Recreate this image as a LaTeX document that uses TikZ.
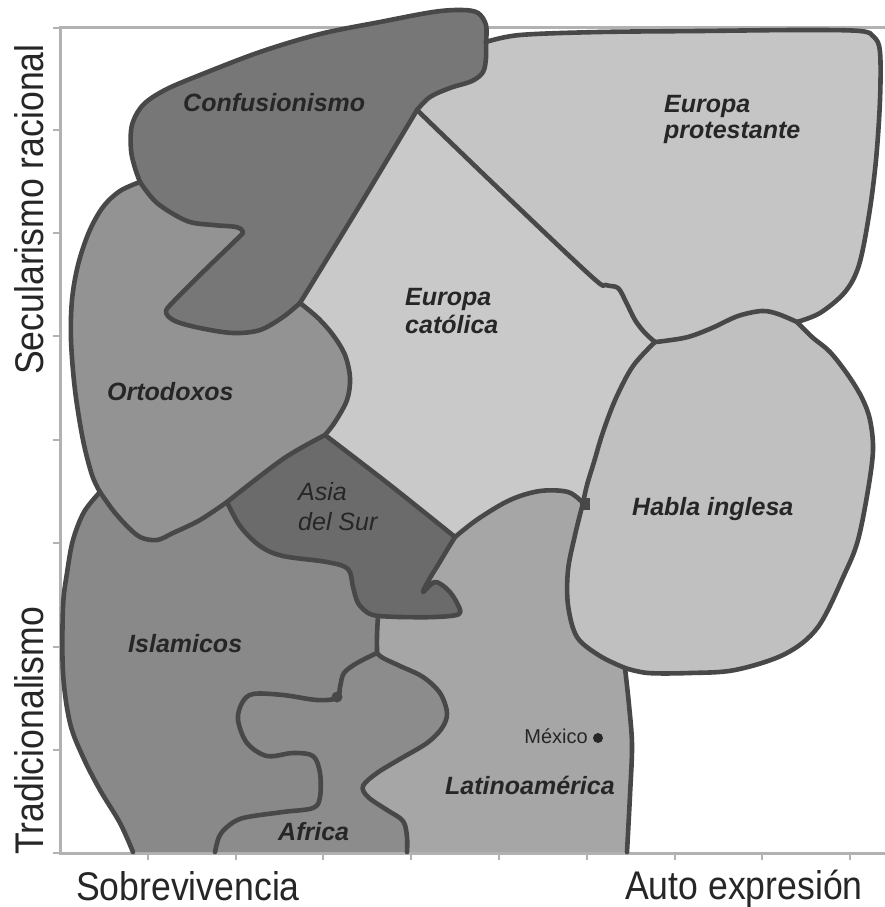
\documentclass[tikz,border=0pt]{standalone}
\usepackage{fontspec}
\setmainfont{Liberation Sans}

\definecolor{confc}{HTML}{777777}
\definecolor{ortc}{HTML}{939393}
\definecolor{catc}{HTML}{C9C9C9}
\definecolor{protc}{HTML}{C5C5C5}
\definecolor{habc}{HTML}{C0C0C0}
\definecolor{asiac}{HTML}{6B6B6B}
\definecolor{islc}{HTML}{898989}
\definecolor{afrc}{HTML}{8C8C8C}
\definecolor{latc}{HTML}{A6A6A6}
\definecolor{bordc}{HTML}{484848}
\definecolor{axisc}{HTML}{B2B2B2}
\definecolor{labc}{HTML}{262626}

\tikzset{
  softcurve/.style={smooth,tension=0.55},
  regionline/.style={draw=bordc,line width=4.6pt,line join=round,line cap=round},
  axisline/.style={draw=axisc,line width=3pt},
  tickline/.style={draw=axisc,line width=2pt},
  region label/.style={font=\fontsize{25}{28}\selectfont\bfseries\itshape,text=labc,inner sep=0pt},
  thin label/.style={font=\fontsize{25}{28}\selectfont\itshape,text=labc,inner sep=0pt},
  axis label/.style={font=\fontsize{40}{44}\selectfont,text=labc,inner sep=0pt},
}

% ---- borders between the cultural zones (pixel coordinates, y downwards) ----
\def\PcoOuter{plot[softcurve] coordinates {(486,42) (486,25) (478,13) (462,10) (433,12) (380,22) (320,34) (260,52) (200,75) (165,90) (143,105) (132,125) (131,150) (135,168) (140,182)}}
\def\PcoOrt{plot[softcurve] coordinates {(140,182) (157,203) (187,221) (213,225) (236,227) (243,232) (237,239) (205,270) (174,301) (166,312) (175,321) (200,328) (233,333) (260,330) (283,317) (300,303)}}
\def\PcoCat{plot[softcurve] coordinates {(300,303) (360,205) (417,110)}}
\def\PcoProt{plot[softcurve] coordinates {(417,110) (430,97) (450,88) (472,81) (483,72) (486,58) (486,42)}}
\def\PprTop{plot[softcurve] coordinates {(486,42) (520,35) (600,32) (700,31) (800,30) (860,31) (874,37) (880,52) (880,100) (876,160) (869,215) (859,265) (845,292) (820,313) (797,322)}}
\def\PprHab{plot[softcurve] coordinates {(797,322) (778,314) (762,311) (738,316) (712,328) (688,337) (664,341) (655,342)}}
\def\PprHabR{plot[softcurve] coordinates {(655,342) (664,341) (688,337) (712,328) (738,316) (762,311) (778,314) (797,322)}}
\def\PprCat{plot[softcurve] coordinates {(655,342) (645,333) (635,320) (626,302) (618,288) (606,285) (592,277) (500,190) (417,110)}}
\def\PprCatR{plot[softcurve] coordinates {(417,110) (500,190) (592,277) (606,285) (618,288) (626,302) (635,320) (645,333) (655,342)}}
\def\PhaCat{plot[softcurve] coordinates {(655,342) (633,366) (616,398) (603,432) (594,462) (587,485) (583,503)}}
\def\PhaCatR{plot[softcurve] coordinates {(583,503) (587,485) (594,462) (603,432) (616,398) (633,366) (655,342)}}
\def\PhaLatR{plot[softcurve] coordinates {(625,668) (600,656) (577,637) (568,605) (568,570) (575,535) (583,503)}}
\def\PhaOutR{plot[softcurve] coordinates {(797,322) (812,337) (830,352) (848,375) (862,398) (870,420) (873,450) (868,490) (858,540) (845,573) (818,627) (785,654) (735,670) (690,673) (648,673) (625,668)}}
\def\PcaLat{plot[softcurve] coordinates {(583,503) (568,492) (540,491) (510,500) (478,519) (455,537)}}
\def\PcaAsia{plot[softcurve] coordinates {(455,537) (390,485) (325,435)}}
\def\PcaAsiaR{plot[softcurve] coordinates {(325,435) (390,485) (455,537)}}
\def\PcaOrt{plot[softcurve] coordinates {(300,303) (318,318) (333,335) (345,355) (350,378) (347,400) (335,422) (325,435)}}
\def\PcaOrtR{plot[softcurve] coordinates {(325,435) (335,422) (347,400) (350,378) (345,355) (333,335) (318,318) (300,303)}}
\def\PorOut{plot[softcurve] coordinates {(100,492) (92,475) (83,440) (75,390) (71,340) (72,300) (78,265) (89,232) (103,207) (120,191) (140,182)}}
\def\PorAsia{plot[softcurve] coordinates {(325,435) (283,459) (227,502)}}
\def\PorAsiaR{plot[softcurve] coordinates {(227,502) (283,459) (325,435)}}
\def\PorIsl{plot[softcurve] coordinates {(227,502) (200,520) (173,533) (157,540) (140,537) (125,524) (112,509) (100,492)}}
\def\PorIslR{plot[softcurve] coordinates {(100,492) (112,509) (125,524) (140,537) (157,540) (173,533) (200,520) (227,502)}}
\def\PasIsl{plot[softcurve] coordinates {(227,502) (240,526) (260,546) (283,556) (327,562) (348,569) (353,587) (358,603) (368,613) (378,616)}}
\def\PasIslR{plot[softcurve] coordinates {(378,616) (368,613) (358,603) (353,587) (348,569) (327,562) (283,556) (260,546) (240,526) (227,502)}}
\def\PasLat{plot[softcurve] coordinates {(455,537) (447,550) (438,565) (430,578) (423,592) (435,582) (448,590) (457,603) (459,614) (435,617) (400,617) (378,616)}}
\def\PisLat{plot[softcurve] coordinates {(378,616) (377,635) (377,653)}}
\def\PisAfr{plot[softcurve] coordinates {(377,653) (357,663) (344,673) (340,687) (337,698) (317,700) (283,695) (253,694) (242,703) (238,720) (247,743) (267,756) (293,753) (313,756) (320,773) (320,797) (313,808) (283,812) (243,818) (227,827) (219,837) (215,852)}}
\def\PafLat{plot[softcurve] coordinates {(377,653) (383,658) (400,666) (423,677) (440,693) (447,713) (442,728) (427,743) (400,759) (377,773) (363,786) (368,797) (387,810) (403,821) (407,837) (407,852)}}
\def\PafLatR{plot[softcurve] coordinates {(407,852) (407,837) (403,821) (387,810) (368,797) (363,786) (377,773) (400,759) (427,743) (442,728) (447,713) (440,693) (423,677) (400,666) (383,658) (377,653)}}
\def\PisOutR{plot[softcurve] coordinates {(133,852) (120,823) (100,790) (83,757) (70,723) (63,673) (63,607) (67,573) (73,540) (84,512) (100,492)}}
\def\PlaOutR{plot[softcurve] coordinates {(627,852) (630,795) (632,745) (629,705) (625,668)}}

% fill / stroke a path assembled from the border macros above
\newcommand\zonefill[2]{\edef\zonetmp{\noexpand\fill[#1] #2;}\zonetmp}
\newcommand\zonedraw[1]{\edef\zonetmp{\noexpand\draw[regionline] #1;}\zonetmp}

\begin{document}
\begin{tikzpicture}[x=1pt,y=-1pt]
\useasboundingbox (0,0) rectangle (885,907);
\fill[white] (0,0) rectangle (885,907);

% axes frame and ticks
\draw[axisline] (885,28) -- (60,28) -- (60,853) -- (885,853);
\foreach \yy in {28,130,233,336,440,543,647,750,853}
  \draw[tickline] (53,\yy) -- (60,\yy);
\foreach \k in {1,...,9}
  \draw[tickline] ({60+87.8*\k},853) -- ({60+87.8*\k},860);

% zone fills
\zonefill{confc}{\PcoOrt -- \PcoCat -- \PcoProt -- \PcoOuter -- cycle}
\zonefill{protc}{\PprTop -- \PprHab -- \PprCat -- \PcoProt -- cycle}
\zonefill{catc}{\PcoCat -- \PprCatR -- \PhaCat -- \PcaLat -- \PcaAsia -- \PcaOrtR -- cycle}
\zonefill{habc}{\PprHabR -- \PhaOutR -- \PhaLatR -- \PhaCatR -- cycle}
\zonefill{ortc}{\PcoOrt -- \PcaOrt -- \PorAsia -- \PorIsl -- \PorOut -- cycle}
\zonefill{asiac}{\PcaAsiaR -- \PasLat -- \PasIslR -- \PorAsiaR -- cycle}
\zonefill{islc}{\PorIslR -- \PasIsl -- \PisLat -- \PisAfr -- (133,852) -- \PisOutR -- cycle}
\zonefill{afrc}{\PisAfr -- (407,852) -- \PafLatR -- cycle}
\zonefill{latc}{\PcaLat -- \PasLat -- \PisLat -- \PafLat -- (627,852) -- \PlaOutR -- \PhaLatR -- cycle}

% zone borders
\zonedraw{\PcoOuter} \zonedraw{\PcoOrt} \zonedraw{\PcoCat} \zonedraw{\PcoProt}
\zonedraw{\PprTop} \zonedraw{\PprHab} \zonedraw{\PprCat} \zonedraw{\PhaCat}
\zonedraw{\PhaLatR} \zonedraw{\PhaOutR} \zonedraw{\PcaLat} \zonedraw{\PcaAsia}
\zonedraw{\PcaOrt} \zonedraw{\PorOut} \zonedraw{\PorAsia} \zonedraw{\PorIsl}
\zonedraw{\PasIsl} \zonedraw{\PasLat} \zonedraw{\PisLat} \zonedraw{\PisAfr}
\zonedraw{\PafLat} \zonedraw{\PisOutR} \zonedraw{\PlaOutR}
\fill[bordc] (337,697) circle (5.5pt);
\fill[bordc] (580,498) rectangle (590,510);

% zone names
\node[region label,anchor=base west] (conf) at (183,111) {Confusionismo};
\node[region label,anchor=base west] (prot1) at (664,112) {Europa};
\node[region label,anchor=base west] (prot2) at (664,138) {protestante};
\node[region label,anchor=base west] (cat1) at (405,305) {Europa};
\node[region label,anchor=base west] (cat2) at (405,333) {católica};
\node[region label,anchor=base west] (ort) at (107,400) {Ortodoxos};
\node[thin label,anchor=base west] (asia1) at (298,500) {Asia};
\node[thin label,anchor=base west] (asia2) at (298,530) {del Sur};
\node[region label,anchor=base west] (isl) at (128,652) {Islamicos};
\node[region label,anchor=base west] (afr) at (278,840) {Africa};
\node[region label,anchor=base west] (hab) at (632,515) {Habla inglesa};
\node[region label,anchor=base west] (lat) at (445,794) {Latinoamérica};

% Mexico marker
\fill[black!85] (598,738) circle (5pt);
\node[font=\fontsize{20}{22}\selectfont,text=labc,anchor=base east,inner sep=0pt] (mex) at (588,743) {México};

% axis titles
\node[axis label,anchor=base west] (surv) at (76,900) {\scalebox{0.89}[1]{Sobrevivencia}};
\node[axis label,anchor=base west] (selfx) at (625,899) {\scalebox{0.89}[1]{Auto expresión}};
\node[axis label,anchor=base west,rotate=90] (secul) at (43,375) {\scalebox{0.89}[1]{Secularismo racional}};
\node[axis label,anchor=base west,rotate=90] (trad) at (43,855) {\scalebox{0.89}[1]{Tradicionalismo}};
\end{tikzpicture}
\end{document}
